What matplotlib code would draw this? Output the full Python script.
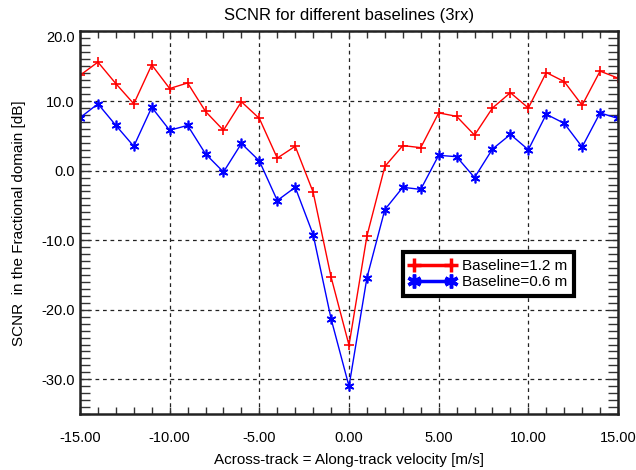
import numpy as np
import matplotlib.pyplot as plt
from matplotlib.ticker import MultipleLocator, FormatStrFormatter

plt.rcParams['font.family'] = ['Liberation Sans', 'DejaVu Sans']

# velocity axis and SCNR curves for both baselines
velocity = np.arange(-15, 16)
scnr_12 = [13.7, 15.6, 12.5, 9.6, 15.2, 11.8, 12.6, 8.5, 5.8, 9.9, 7.5,
           1.8, 3.5, -3.1, -15.3, -25.1, -9.4, 0.6, 3.6, 3.3, 8.3, 7.8,
           5.1, 9.0, 11.2, 9.0, 14.1, 12.8, 9.4, 14.3, 13.3]
scnr_06 = [7.6, 9.6, 6.5, 3.5, 9.1, 5.8, 6.5, 2.4, -0.2, 3.9, 1.4,
           -4.3, -2.4, -9.2, -21.3, -31.0, -15.4, -5.6, -2.4, -2.7, 2.2, 2.0,
           -1.0, 3.1, 5.2, 3.0, 8.1, 6.8, 3.4, 8.3, 7.5]
labels = ['Baseline=1.2 m', 'Baseline=0.6 m']

fig = plt.figure(figsize=(6.36, 4.70), dpi=100)
ax = fig.add_axes([0.1258, 0.119, 0.8459, 0.814])

asterisk = (6, 2, 0)
ax.plot(velocity, scnr_12, color='red', lw=1, marker='+', ms=7, mew=1.2)
ax.plot(velocity, scnr_06, color='blue', lw=1, marker=asterisk, ms=7, mew=1.2)

ax.set_xlim(-15, 15)
ax.set_ylim(-35, 20)
ax.xaxis.set_major_locator(MultipleLocator(5))
ax.xaxis.set_minor_locator(MultipleLocator(1))
ax.set_yticks([-30, -20, -10, 0, 10, 20])
ax.yaxis.set_minor_locator(MultipleLocator(1))
ax.xaxis.set_major_formatter(FormatStrFormatter('%.2f'))
ax.yaxis.set_major_formatter(FormatStrFormatter('%.1f'))

ax.tick_params(which='both', direction='in', top=True, right=True,
               labelsize=10.5, width=1, color='#333333')
ax.tick_params(axis='x', which='both', length=5, pad=12)
ax.tick_params(axis='y', which='both', length=7, pad=4)
# top label sits below the frame edge
ax.yaxis.get_major_ticks()[-1].label1.set_verticalalignment('top')
for s in ax.spines.values():
    s.set_linewidth(1.8)
    s.set_color('#222222')

ax.grid(True, which='major', color='#222222', lw=0.9, linestyle=(0, (3, 3)))

ax.set_title('SCNR for different baselines (3rx)', fontsize=12, pad=8)
ax.set_xlabel('Across-track = Along-track velocity [m/s]', fontsize=11, labelpad=6)
ax.set_ylabel('SCNR  in the Fractional domain [dB]', fontsize=11, labelpad=11)

# legend uses heavier lines than the plotted curves
h1, = ax.plot([], [], color='red', lw=2.5, marker='+', ms=10, mew=2.5)
h2, = ax.plot([], [], color='blue', lw=2.5, marker=asterisk, ms=10, mew=2.5)
leg = ax.legend([h1, h2], labels, loc='upper left', bbox_to_anchor=(0.600, 0.4235),
                fontsize=11, numpoints=2, handlelength=3.0, handletextpad=0.4,
                borderpad=0.45, labelspacing=0.15, borderaxespad=0,
                fancybox=False, framealpha=1, edgecolor='black')
leg.get_frame().set_linewidth(3)

fig.savefig('out.png', dpi=100)
